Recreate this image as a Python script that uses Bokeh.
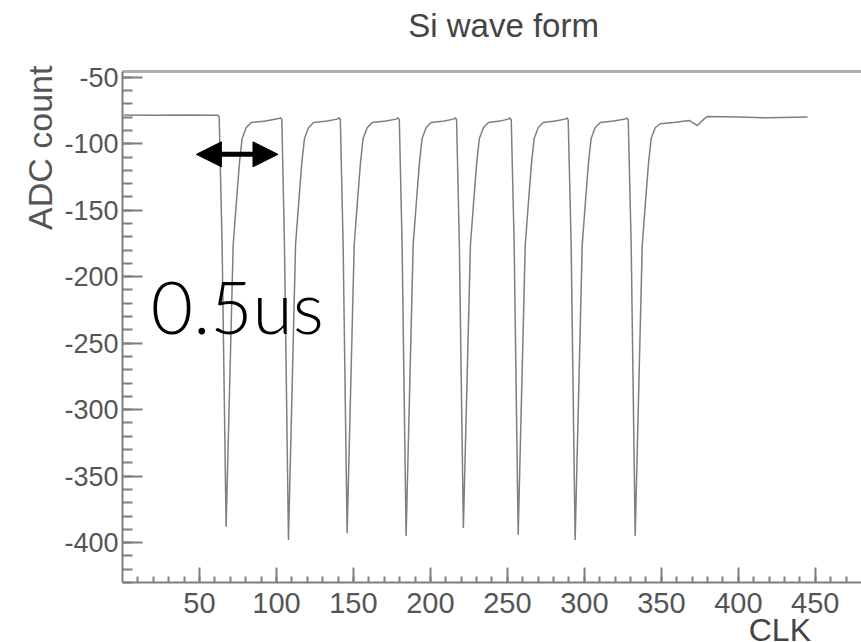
from bokeh.plotting import figure
from bokeh.models import Range1d, FixedTicker, LinearAxis, Label, Arrow, NormalHead, ColumnDataSource
from bokeh.embed import file_html
from bokeh.resources import INLINE
import math

# ---- data ----
clk = [1, 20, 40, 62.0, 62.8, 64.7, 67.3, 71.9, 74.3, 76.0, 77.7, 80.3, 83.6, 93.0, 101.5, 102.8,
       103.5, 105.2, 107.8, 112.4, 114.8, 116.5, 118.2, 120.8, 124.1, 133.0, 139.5, 140.6,
       141.5, 143.3, 145.9, 150.5, 152.9, 154.6, 156.3, 158.9, 162.2, 171.0, 177.8, 178.9,
       179.8, 181.6, 184.2, 188.8, 191.2, 192.9, 194.6, 197.2, 200.5, 209.0, 215.0, 216.1,
       217.0, 218.8, 221.4, 226.0, 228.4, 230.1, 231.8, 234.4, 237.7, 245.0, 250.6, 251.7,
       252.5, 254.4, 257.0, 261.6, 264.0, 265.7, 267.4, 270.0, 273.3, 281.0, 287.6, 288.7,
       289.5, 291.4, 294.0, 298.6, 301.0, 302.7, 304.4, 307.0, 310.3, 319.0, 326.6, 327.7,
       328.5, 330.4, 333.0, 337.6, 340.0, 341.7, 343.4, 346.0, 349.3, 358.0, 368.0, 373.4,
       377.8, 380.0, 400.0, 420.0, 445.0]
adc = [-78.5, -78.6, -78.4, -78.6, -80, -176, -388, -176, -139, -114, -96, -88, -84, -83, -81, -80.5,
       -82, -176, -398, -176, -139, -114, -96, -88, -84, -83, -81.5, -80.5,
       -82, -176, -393, -176, -139, -114, -96, -88, -84, -83, -81.5, -80.5,
       -82, -176, -395, -176, -139, -114, -96, -88, -84, -83, -81.5, -80.5,
       -82, -176, -389, -176, -139, -114, -96, -88, -84, -83, -81.5, -80.5,
       -82, -176, -394, -176, -139, -114, -96, -88, -84, -83, -81.5, -80.5,
       -82, -176, -398, -176, -139, -114, -96, -88, -84, -83, -81.5, -80.5,
       -82, -176, -395, -176, -139, -114, -96, -88, -85, -84, -82.5, -86.3,
       -81.3, -79.5, -80, -80.5, -80]

x_major = [50, 100, 150, 200, 250, 300, 350, 400, 450]
x_minor = list(range(10, 480, 10))
y_major = [-50, -100, -150, -200, -250, -300, -350, -400]
y_minor = list(range(-430, -40, 10))

title_text = "Si wave form"
x_title = "CLK"
y_title = "ADC count"
note_text = "0.5us"

X0, X1 = 0, 480
Y0, Y1 = -430, -45.7

FONT = "Liberation Sans"
GREY = "#7f7f7f"
LABEL = "#555555"

p = figure(width=861, height=642, x_range=Range1d(-79.24, 480), y_range=Range1d(-475.1, 7.7),
           output_backend="svg", toolbar_location=None, x_axis_type=None, y_axis_type=None,
           min_border_left=0, min_border_right=0, min_border_top=0, min_border_bottom=0)
p.outline_line_color = None
p.background_fill_color = "white"
p.border_fill_color = "white"

src = ColumnDataSource(dict(x=clk, y=adc))
p.line("x", "y", source=src, line_color=GREY, line_width=1.5)

ax_left = LinearAxis(ticker=FixedTicker(ticks=y_major, minor_ticks=y_minor),
                     fixed_location=X0, bounds=(Y0, Y1))
ax_left.major_tick_in = 20
ax_left.major_tick_out = 0
ax_left.minor_tick_in = 10
ax_left.minor_tick_out = 0
ax_left.major_label_standoff = 4
ax_left.axis_line_color = GREY
ax_left.axis_line_width = 2
ax_left.major_tick_line_color = GREY
ax_left.minor_tick_line_color = GREY
ax_left.major_tick_line_width = 2
ax_left.minor_tick_line_width = 2
ax_left.major_label_text_font = FONT
ax_left.major_label_text_font_size = "27px"
ax_left.major_label_text_color = LABEL
ax_left.major_label_overrides = {v: str(v) for v in y_major}
p.add_layout(ax_left, "left")

ax_bot = LinearAxis(ticker=FixedTicker(ticks=x_major, minor_ticks=x_minor),
                    fixed_location=Y0, bounds=(X0, X1))
ax_bot.major_tick_in = 15
ax_bot.major_tick_out = 0
ax_bot.minor_tick_in = 6
ax_bot.minor_tick_out = 0
ax_bot.major_label_standoff = 10
ax_bot.axis_line_color = GREY
ax_bot.axis_line_width = 2
ax_bot.major_tick_line_color = GREY
ax_bot.minor_tick_line_color = GREY
ax_bot.major_tick_line_width = 2
ax_bot.minor_tick_line_width = 2
ax_bot.major_label_text_font = FONT
ax_bot.major_label_text_font_size = "29px"
ax_bot.major_label_text_color = LABEL
p.add_layout(ax_bot, "below")

ax_top = LinearAxis(ticker=FixedTicker(ticks=[]), fixed_location=Y1, bounds=(X0, X1))
ax_top.major_tick_in = 0
ax_top.major_tick_out = 0
ax_top.minor_tick_in = 0
ax_top.minor_tick_out = 0
ax_top.axis_line_color = "#b0b0b0"
ax_top.axis_line_width = 3
ax_top.major_label_text_font_size = "0px"
p.add_layout(ax_top, "above")

p.add_layout(Label(x=247.5, y=-11.2, text=title_text, text_align="center", text_baseline="alphabetic",
                   text_font=FONT, text_font_size="33px", text_color="#444444"))
p.add_layout(Label(x=447.2, y=-466.0, text=x_title, text_align="right", text_baseline="alphabetic",
                   text_font=FONT, text_font_size="32px", text_color="#444444"))
p.add_layout(Label(x=-53.4, y=-41.2, text=y_title, text_align="right", text_baseline="alphabetic",
                   angle=math.pi / 2, text_font=FONT, text_font_size="34px", text_color=LABEL))
p.add_layout(Label(x=18.4, y=-222.0, text=note_text, text_align="left", text_baseline="alphabetic",
                   text_font="Lato Light, Lato, Liberation Sans", text_font_size="73px", text_color="black"))

p.add_layout(Arrow(start=NormalHead(size=25, fill_color="black", line_color="black"),
                   end=NormalHead(size=25, fill_color="black", line_color="black"),
                   x_start=48, y_start=-108, x_end=101, y_end=-108,
                   line_color="black", line_width=5))

open("out.html", "w").write(file_html(p, INLINE))
